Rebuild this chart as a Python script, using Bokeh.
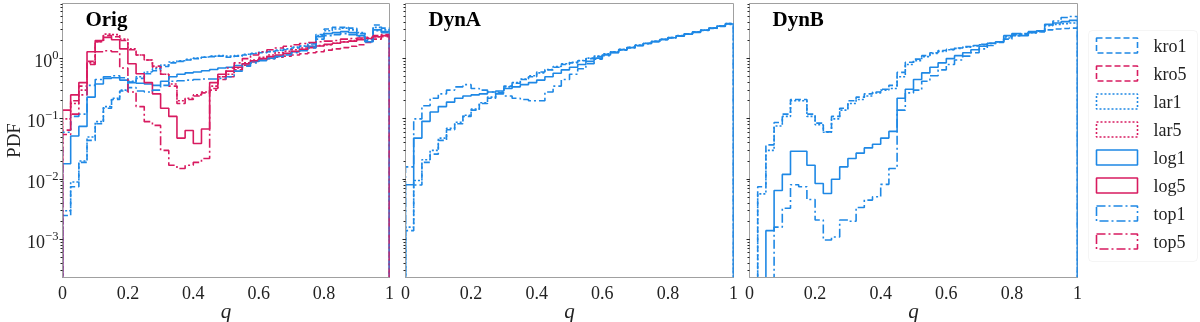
import numpy as np
from bokeh.plotting import figure
from bokeh.layouts import row
from bokeh.models import Range1d, FixedTicker, Label, BoxAnnotation
from bokeh.core.properties import value
from bokeh.embed import file_html
from bokeh.resources import INLINE

# ---------------- data ----------------
bin_width = 0.025
panels = ["Orig", "DynA", "DynB"]
labels = ["kro1", "kro5", "lar1", "lar5", "log1", "log5", "top1", "top5"]

kro1_orig = [0.0025, 0.0075, 0.019, 0.044, 0.083, 0.15, 0.21, 0.29, 0.41, 0.47, 0.56, 0.63, 0.74, 0.85, 0.9, 0.95, 1.0, 1.05, 1.08, 1.1,
             1.05, 1.1, 1.15, 1.2, 1.25, 1.3, 1.35, 1.4, 1.5, 1.6, 1.75, 2.5, 3.1, 3.3, 3.3, 3.2, 2.6, 2.0, 3.6, 3.2]
lar1_orig = [0.003, 0.009, 0.02, 0.05, 0.09, 0.16, 0.22, 0.3, 0.42, 0.5, 0.6, 0.68, 0.78, 0.88, 0.92, 0.97, 1.02, 1.06, 1.1, 1.12,
             1.1, 1.12, 1.18, 1.22, 1.28, 1.32, 1.38, 1.45, 1.55, 1.62, 1.8, 2.4, 2.9, 3.1, 3.2, 3.0, 2.7, 2.1, 3.3, 3.0]
log1_orig = [0.018, 0.052, 0.075, 0.23, 0.38, 0.47, 0.48, 0.44, 0.4, 0.39, 0.38, 0.36, 0.42, 0.5, 0.55, 0.58, 0.6, 0.63, 0.66, 0.7,
             0.72, 0.77, 0.82, 0.9, 0.95, 1.02, 1.1, 1.2, 1.3, 1.4, 1.6, 2.3, 2.6, 2.7, 2.8, 2.7, 2.4, 1.9, 3.0, 2.8]
top1_orig = [0.06, 0.11, 0.12, 0.36, 0.45, 0.5, 0.52, 0.48, 0.33, 0.29, 0.28, 0.3, 0.36, 0.42, 0.43, 0.44, 0.45, 0.46, 0.46, 0.47,
             0.5, 0.62, 0.75, 0.85, 0.92, 1.0, 1.08, 1.15, 1.25, 1.35, 1.5, 2.1, 2.4, 2.5, 2.6, 2.5, 2.3, 1.9, 2.9, 2.7]
kro5_orig = [0.065, 0.2, 0.35, 0.9, 1.9, 2.4, 2.3, 2.0, 1.4, 1.15, 0.95, 0.75, 0.55, 0.35, 0.18, 0.21, 0.24, 0.27, 0.32, 0.45,
             0.5, 0.65, 0.78, 0.88, 0.95, 1.0, 1.05, 1.1, 1.15, 1.2, 1.25, 1.3, 1.38, 1.45, 1.52, 1.6, 1.7, 1.85, 2.1, 2.3]
lar5_orig = [0.1, 0.18, 0.3, 0.85, 1.9, 2.55, 2.5, 2.1, 1.45, 1.15, 0.95, 0.72, 0.55, 0.38, 0.2, 0.22, 0.25, 0.28, 0.35, 0.5,
             0.55, 0.7, 0.85, 0.95, 1.05, 1.15, 1.25, 1.32, 1.4, 1.5, 1.6, 1.65, 1.7, 1.8, 1.9, 2.0, 2.1, 2.2, 2.3, 2.4]
log5_orig = [0.14, 0.25, 0.4, 1.3, 2.0, 2.25, 2.05, 1.45, 0.82, 0.56, 0.4, 0.26, 0.15, 0.11, 0.048, 0.064, 0.039, 0.068, 0.4, 0.55,
             0.62, 0.72, 0.82, 0.92, 1.0, 1.08, 1.15, 1.22, 1.32, 1.42, 1.52, 1.62, 1.72, 1.8, 1.88, 1.95, 2.05, 2.15, 2.3, 2.4]
top5_orig = [0.055, 0.12, 0.25, 0.8, 1.3, 1.35, 1.3, 0.7, 0.28, 0.16, 0.09, 0.078, 0.03, 0.017, 0.015, 0.017, 0.019, 0.022, 0.3, 0.5,
             0.7, 0.85, 1.0, 1.15, 1.3, 1.4, 1.5, 1.6, 1.7, 1.78, 1.85, 1.9, 1.95, 2.0, 2.1, 2.15, 2.2, 2.25, 2.4, 2.5]

kro1_dyna = [0.0014, 0.008, 0.019, 0.026, 0.044, 0.066, 0.083, 0.11, 0.14, 0.18, 0.22, 0.27, 0.35, 0.39, 0.45, 0.5, 0.6, 0.65, 0.72, 0.8,
             0.85, 0.92, 1.0, 1.08, 1.18, 1.29, 1.41, 1.53, 1.66, 1.79, 1.93, 2.08, 2.23, 2.39, 2.57, 2.77, 2.97, 3.22, 3.47, 3.8]
lar1_dyna = [0.0016, 0.0095, 0.021, 0.03, 0.048, 0.07, 0.088, 0.115, 0.145, 0.185, 0.23, 0.28, 0.34, 0.4, 0.46, 0.52, 0.58, 0.66, 0.74, 0.82,
             0.87, 0.93, 1.02, 1.1, 1.2, 1.3, 1.42, 1.54, 1.67, 1.8, 1.94, 2.09, 2.24, 2.4, 2.58, 2.78, 2.98, 3.22, 3.5, 3.82]
log1_dyna = [0.0081, 0.048, 0.091, 0.13, 0.16, 0.19, 0.22, 0.24, 0.25, 0.26, 0.28, 0.29, 0.32, 0.34, 0.37, 0.4, 0.44, 0.5, 0.57, 0.65,
             0.72, 0.8, 0.9, 1.02, 1.15, 1.27, 1.4, 1.52, 1.65, 1.78, 1.92, 2.07, 2.22, 2.38, 2.55, 2.75, 2.95, 3.2, 3.45, 3.75]
top1_dyna = [0.016, 0.1, 0.165, 0.22, 0.26, 0.3, 0.34, 0.37, 0.32, 0.3, 0.28, 0.26, 0.24, 0.22, 0.21, 0.2, 0.2, 0.28, 0.35, 0.45,
             0.55, 0.68, 0.82, 0.98, 1.12, 1.25, 1.38, 1.5, 1.63, 1.76, 1.9, 2.05, 2.2, 2.36, 2.53, 2.72, 2.92, 3.15, 3.4, 3.7]

kro1_dynb = [0, 0.0075, 0.037, 0.087, 0.12, 0.21, 0.21, 0.12, 0.085, 0.061, 0.11, 0.15, 0.2, 0.23, 0.26, 0.28, 0.31, 0.36, 0.59, 0.87,
             0.98, 1.12, 1.25, 1.36, 1.42, 1.5, 1.58, 1.65, 1.72, 1.8, 1.9, 2.1, 2.4, 2.6, 2.7, 2.8, 3.0, 3.1, 3.15, 3.2]
lar1_dynb = [0, 0.0057, 0.03, 0.076, 0.11, 0.2, 0.2, 0.11, 0.08, 0.06, 0.1, 0.14, 0.18, 0.21, 0.24, 0.27, 0.3, 0.32, 0.5, 0.8,
             0.92, 1.08, 1.22, 1.32, 1.4, 1.48, 1.55, 1.62, 1.7, 1.78, 1.9, 2.2, 2.4, 2.55, 2.7, 2.85, 3.5, 3.7, 3.8, 3.9]
log1_dynb = [0, 0, 0.0014, 0.0065, 0.012, 0.029, 0.029, 0.017, 0.0085, 0.0058, 0.01, 0.016, 0.022, 0.027, 0.033, 0.038, 0.048, 0.062, 0.22, 0.31,
             0.45, 0.58, 0.72, 0.85, 1.0, 1.12, 1.25, 1.4, 1.6, 1.8, 1.9, 2.4, 2.6, 2.4, 2.8, 2.9, 3.7, 3.9, 4.1, 4.3]
top1_dynb = [0, 0, 0, 0.0016, 0.0033, 0.0081, 0.0075, 0.0046, 0.0021, 0.00098, 0.0011, 0.0021, 0.002, 0.0034, 0.0045, 0.0051, 0.0082, 0.015, 0.14, 0.27,
             0.3, 0.42, 0.52, 0.65, 0.8, 0.95, 1.1, 1.25, 1.45, 1.65, 1.85, 2.3, 2.5, 2.5, 2.7, 2.8, 3.6, 4.2, 4.8, 5.0]

x_ticks = [0, 0.2, 0.4, 0.6, 0.8, 1]
x_tick_labels = ["0", "0.2", "0.4", "0.6", "0.8", "1"]

# ---------------- styling ----------------
BLUE = "#1E88E5"
RED = "#D81B60"
styles = {
    "kro1": (BLUE, "6 3"), "kro5": (RED, "6 3"),
    "lar1": (BLUE, "2 2"), "lar5": (RED, "2 2"),
    "log1": (BLUE, "solid"), "log5": (RED, "solid"),
    "top1": (BLUE, "9 3 2 3"), "top5": (RED, "9 3 2 3"),
}
SERIF = "Liberation Serif"
FLOOR = 1e-5
Y_LO, Y_HI = 2.34e-4, 8.2

panel_series = {
    "Orig": [("kro1", kro1_orig), ("kro5", kro5_orig), ("lar1", lar1_orig), ("lar5", lar5_orig),
             ("log1", log1_orig), ("log5", log5_orig), ("top1", top1_orig), ("top5", top5_orig)],
    "DynA": [("kro1", kro1_dyna), ("lar1", lar1_dyna), ("log1", log1_dyna), ("top1", top1_dyna)],
    "DynB": [("kro1", kro1_dynb), ("lar1", lar1_dynb), ("log1", log1_dynb), ("top1", top1_dynb)],
}


def step_xy(vals):
    n = len(vals)
    edges = np.arange(n + 1) * bin_width
    xs = np.repeat(edges, 2)
    v = np.maximum(np.array(vals, dtype=float), FLOOR)
    ys = np.concatenate([[FLOOR], np.repeat(v, 2), [FLOOR]])
    return xs, ys


def make_panel(name, first):
    p = figure(frame_width=327 if first else 328, frame_height=274,
               y_axis_type="log", x_range=Range1d(0, 1), y_range=Range1d(Y_LO, Y_HI),
               output_backend="svg", toolbar_location=None,
               min_border_left=62 if first else 8, min_border_right=8,
               min_border_top=3, min_border_bottom=45,
               background_fill_color="white", border_fill_color="white")
    p.outline_line_color = "#a0a0a0"
    p.outline_line_width = 1
    p.xgrid.grid_line_color = None
    p.ygrid.grid_line_color = None

    xa = p.xaxis[0]
    xa.ticker = FixedTicker(ticks=x_ticks, minor_ticks=[])
    xa.major_label_overrides = {t: s for t, s in zip(x_ticks, x_tick_labels)}
    xa.major_label_text_font = SERIF
    xa.major_label_text_font_size = "18px"
    xa.major_label_text_color = "#222222"
    xa.major_label_standoff = 8
    xa.major_tick_out = 0
    xa.major_tick_in = 0
    xa.axis_line_color = "#a0a0a0"
    xa.axis_label = "q"
    xa.axis_label_text_font = SERIF
    xa.axis_label_text_font_style = "italic"
    xa.axis_label_text_font_size = "21px"
    xa.axis_label_text_color = "#222222"
    xa.axis_label_standoff = -3

    ya = p.yaxis[0]
    ya.axis_line_color = "#a0a0a0"
    ya.major_tick_out = 3
    ya.major_tick_in = 0
    ya.minor_tick_out = 2
    ya.minor_tick_in = 0
    ya.major_tick_line_color = "#222222"
    ya.minor_tick_line_color = "#222222"
    if first:
        ya.major_label_text_font = SERIF
        ya.major_label_text_font_size = "18px"
        ya.major_label_text_color = "#222222"
        ya.major_label_standoff = 1
        ya.axis_label = "PDF"
        ya.axis_label_text_font = SERIF
        ya.axis_label_text_font_style = "normal"
        ya.axis_label_text_font_size = "19px"
        ya.axis_label_text_color = "#222222"
        ya.axis_label_standoff = 0
    else:
        ya.major_label_text_font_size = "1px"
        ya.major_label_text_alpha = 0
        ya.major_label_standoff = 0

    for lab, vals in panel_series[name]:
        col, dash = styles[lab]
        xs, ys = step_xy(vals)
        p.line(xs, ys, line_color=col, line_dash=dash, line_width=1.6)

    p.add_layout(Label(x=0.07, y=4.5, text=name, text_font=SERIF, text_font_style="bold",
                       text_font_size="21px", text_color="black", text_baseline="middle"))
    return p


p1 = make_panel("Orig", True)
p2 = make_panel("DynA", False)
p3 = make_panel("DynB", False)

# ---------------- legend panel (drawn in pixel coordinates) ----------------
LW, LH = 115, 322
p4 = figure(frame_width=LW, frame_height=LH, x_range=Range1d(0, LW), y_range=Range1d(LH, 0),
            output_backend="svg", toolbar_location=None,
            min_border_left=0, min_border_right=0, min_border_top=0, min_border_bottom=0,
            x_axis_location=None, y_axis_location=None,
            background_fill_color="white", border_fill_color="white")
p4.outline_line_color = None
p4.xgrid.grid_line_color = None
p4.ygrid.grid_line_color = None

p4.add_layout(BoxAnnotation(left=3, right=112, top=27, bottom=258, fill_color="white", fill_alpha=1,
                            line_color="#dddddd", line_width=1, border_radius=4, level="underlay"))
row_pitch, row0 = 28, 42
for i, lab in enumerate(labels):
    col, dash = styles[lab]
    yc = row0 + i * row_pitch
    p4.rect(x=[31.5], y=[yc], width=[41], height=[15], fill_alpha=0, line_color=col,
            line_dash=dash, line_width=1.6)
    p4.text(x=[68], y=[yc], text=[lab], text_font=value(SERIF), text_font_size="18px",
            text_color="#222222", text_baseline="middle", text_align="left")

layout = row(p1, p2, p3, p4, styles={"position": "fixed", "top": "0px", "left": "0px"})
open("out.html", "w").write(file_html(layout, INLINE))
